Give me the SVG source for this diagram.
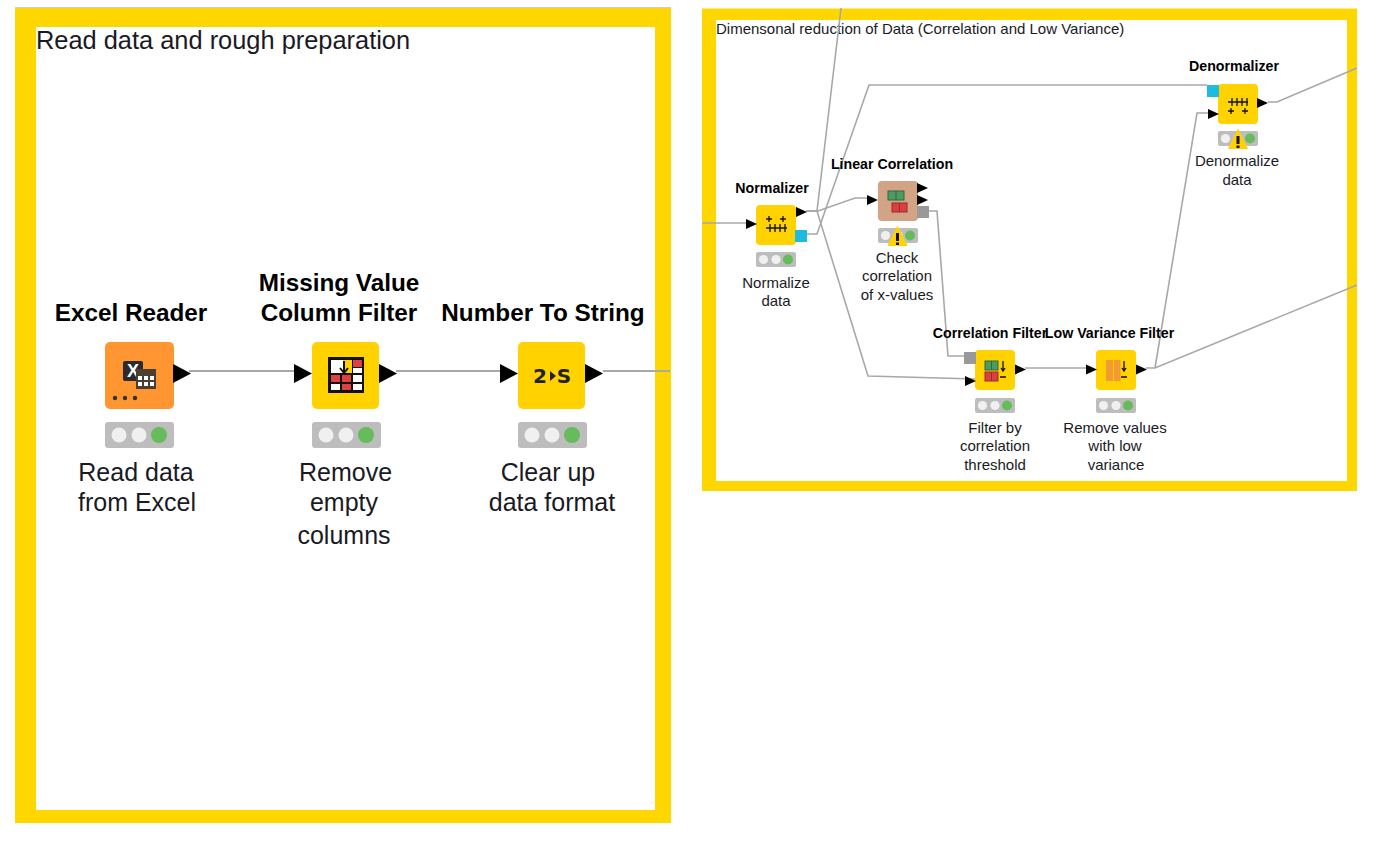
<svg xmlns="http://www.w3.org/2000/svg" width="1376" height="842" viewBox="0 0 1376 842">
<style>
.t{font-family:"Liberation Sans",Arial,sans-serif;fill:#1a1a24;text-anchor:middle}
.b{font-weight:bold;fill:#000}
.l1{font-size:25px}.l1b{font-size:24.300px}.l2{font-size:15px}.l2b{font-size:14.200px}
.c{fill:none;stroke:#a8a8a8;stroke-width:1.600}
.c2{fill:none;stroke:#a8a8a8;stroke-width:2}
.tr{fill:#000}
.y{fill:#ffd200}
.ic{fill:none;stroke:#111;stroke-width:1.300}
.gc{fill:#4d9b62;stroke:#2b6b40}
.rc{fill:#db4040;stroke:#992b2b}
</style>
<defs>
<g id="tl1"><rect width="69" height="26" rx="3" fill="#bdbdbd"/><circle cx="14" cy="13" r="7.500" fill="#f0f0f0"/><circle cx="34" cy="13" r="7.500" fill="#f0f0f0"/><circle cx="54" cy="13" r="8" fill="#66bb5a"/></g>
<g id="tl2"><rect width="40" height="15" rx="2" fill="#bdbdbd"/><circle cx="7.500" cy="7.500" r="4.600" fill="#f0f0f0"/><circle cx="20" cy="7.500" r="4.600" fill="#f0f0f0"/><circle cx="32" cy="7.500" r="5" fill="#66bb5a"/></g>
<g id="warn"><path d="M0 -19.500 L9.500 -0.500 L-9.500 -0.500 Z" fill="#ffd200" stroke="#ffd200" stroke-width="1" stroke-linejoin="round"/><rect x="-1.500" y="-13" width="3" height="8" fill="#111"/><rect x="-1.500" y="-3.500" width="3" height="2.500" fill="#111"/></g>
<path id="a1" d="M0 -9.500 L18 0 L0 9.500 Z" class="tr"/>
<path id="a2" d="M0 -5 L11 0 L0 5 Z" class="tr"/>
</defs>
<rect width="1376" height="842" fill="#fff"/>
<rect x="15" y="7" width="656" height="1.500" fill="#ccc"/>
<rect x="15" y="8" width="656" height="815" fill="#ffd700"/>
<rect x="36" y="27" width="619" height="783" fill="#fff"/>
<rect x="702" y="8.500" width="655" height="482.500" fill="#ffd700"/>
<rect x="716" y="20" width="631" height="461" fill="#fff"/>
<text class="t l1" style="text-anchor:start;font-size:25.400px" x="36" y="49">Read data and rough preparation</text>
<text class="t" style="text-anchor:start;font-size:15px" x="716" y="34">Dimensonal reduction of Data (Correlation and Low Variance)</text>
<g id="connectors">
<path class="c2" d="M189 371H296"/>
<path class="c2" d="M396 371H500"/>
<path class="c2" d="M603 371H670"/>
<path class="c" d="M702 223H746"/>
<path class="c" d="M806 211H817L841 8"/>
<path class="c" d="M806 211H817L868 376L975 379"/>
<path class="c" d="M806 211H818L855 198H867"/>
<path class="c" d="M807 234H817L869 85H1207"/>
<path class="c" d="M929 211H937L948 356H964"/>
<path class="c" d="M1025 368H1086"/>
<path class="c" d="M1146 368H1155L1357 285"/>
<path class="c" d="M1155 368L1197 113H1208"/>
<path class="c" d="M1268 102H1277L1357 68"/>
</g>
<g id="excel-reader">
<text class="t b l1b" x="131" y="321">Excel Reader</text>
<rect x="105" y="342" width="69" height="67" rx="5" fill="#ff9632"/>
<rect x="123" y="361" width="20" height="20" rx="2" fill="#2b2b2b"/>
<text x="133" y="377" font-family="Liberation Sans,sans-serif" font-size="18" font-weight="bold" fill="#fff" text-anchor="middle">X</text>
<rect x="136" y="369" width="20" height="20" fill="#4a3f35"/>
<path d="M138 376h4v4h-4zM144 376h4v4h-4zM150 376h4v4h-4zM138 382h4v4h-4zM144 382h4v4h-4zM150 382h4v4h-4z" fill="#fff"/>
<circle cx="115" cy="398" r="2.200" fill="#333"/><circle cx="125" cy="398" r="2.200" fill="#333"/><circle cx="135" cy="398" r="2.200" fill="#333"/>
<use href="#a1" x="173" y="373.500"/>
<use href="#tl1" x="105" y="422"/>
<text class="t l1" x="136" y="481">Read data</text><text class="t l1" x="137" y="511">from Excel</text>
</g>
<g id="missing-value-column-filter">
<text class="t b l1b" x="339" y="291">Missing Value</text><text class="t b l1b" x="339" y="321">Column Filter</text>
<rect class="y" x="312" y="342" width="67" height="67" rx="5"/>
<use href="#a1" x="294" y="373.500"/><use href="#a1" x="379" y="373.500"/>
<rect x="328" y="357" width="36" height="36" fill="#111"/>
<rect x="331" y="360" width="12" height="13" fill="#fff"/><rect x="343" y="360" width="9" height="13" fill="#ffd200"/><rect x="353" y="360" width="9" height="7" fill="#e04040"/><rect x="353" y="368" width="9" height="5" fill="#fff"/>
<rect x="331" y="375" width="9" height="7" fill="#e04040"/><rect x="342" y="375" width="9" height="7" fill="#e04040"/><rect x="353" y="375" width="9" height="7" fill="#fff"/>
<rect x="331" y="384" width="9" height="6" fill="#fff"/><rect x="342" y="384" width="9" height="6" fill="#e04040"/><rect x="353" y="384" width="9" height="6" fill="#fff"/>
<path d="M344 361V372M340 368L344 373L348 368" stroke="#111" stroke-width="2" fill="none"/>
<use href="#tl1" x="312" y="422"/>
<text class="t l1" x="345.500" y="481">Remove</text><text class="t l1" x="344" y="511">empty</text><text class="t l1" x="344" y="544">columns</text>
</g>
<g id="number-to-string">
<text class="t b l1b" x="543" y="321">Number To String</text>
<rect class="y" x="518" y="342" width="67" height="67" rx="5"/>
<text x="540" y="383" font-family="DejaVu Sans,sans-serif" font-size="20" font-weight="bold" fill="#222" text-anchor="middle">2</text>
<path d="M550 371L556 376L550 381Z" fill="#222"/>
<text x="564" y="383" font-family="DejaVu Sans,sans-serif" font-size="20" font-weight="bold" fill="#222" text-anchor="middle">S</text>
<use href="#a1" x="500" y="373.500"/><use href="#a1" x="585" y="373.500"/>
<use href="#tl1" x="518" y="422"/>
<text class="t l1" x="548" y="481">Clear up</text><text class="t l1" x="552" y="511">data format</text>
</g>
<g id="normalizer">
<text class="t b l2b" x="772" y="193">Normalizer</text>
<rect class="y" x="756" y="205" width="40" height="40" rx="4"/>
<path class="ic" d="M766 228H787M770 224v8M775 224v8M780 224v8M785 224v8M766 219h6M769 216v6M780 219h6M783 216v6"/>
<use href="#a2" x="746" y="224"/><use href="#a2" x="796" y="212"/>
<rect x="795" y="230" width="12" height="12" fill="#1ebbe0"/>
<use href="#tl2" x="756" y="252"/>
<text class="t l2" x="776" y="288">Normalize</text><text class="t l2" x="776" y="306">data</text>
</g>
<g id="linear-correlation">
<text class="t b l2b" x="892" y="169">Linear Correlation</text>
<rect x="878" y="181" width="40" height="40" rx="4" fill="#d2a384"/>
<rect class="gc" x="888" y="191" width="16" height="9"/><path d="M896 191v9" stroke="#2b6b40"/><rect class="rc" x="892" y="203" width="15" height="9"/><path d="M899.500 203v9" stroke="#992b2b"/>
<use href="#a2" x="867" y="200"/><use href="#a2" x="917" y="188"/><use href="#a2" x="917" y="200"/>
<rect x="917" y="206" width="12" height="12" fill="#999"/>
<use href="#tl2" x="878" y="228"/><use href="#warn" x="897.500" y="246"/>
<text class="t l2" x="897" y="263">Check</text><text class="t l2" x="897" y="281">correlation</text><text class="t l2" x="897" y="300">of x-values</text>
</g>
<g id="correlation-filter">
<text class="t b l2b" x="990" y="338">Correlation Filter</text>
<rect class="y" x="975" y="350" width="40" height="40" rx="4"/>
<rect class="gc" x="985" y="361" width="13" height="9"/><path d="M991.500 361v9" stroke="#2b6b40"/><rect class="rc" x="985" y="372" width="13" height="9"/><path d="M991.500 372v9" stroke="#992b2b"/>
<path class="ic" d="M1003 361v10M1001 368l2 3 2-3M1000 377h6"/>
<rect x="964" y="352" width="12" height="12" fill="#999"/>
<use href="#a2" x="965" y="381"/><use href="#a2" x="1015" y="369.500"/>
<use href="#tl2" x="975" y="398"/>
<text class="t l2" x="995" y="433">Filter by</text><text class="t l2" x="995" y="451">correlation</text><text class="t l2" x="995" y="470">threshold</text>
</g>
<g id="low-variance-filter">
<text class="t b l2b" x="1109.500" y="338">Low Variance Filter</text>
<rect class="y" x="1096" y="350" width="40" height="40" rx="4"/>
<rect x="1106" y="360" width="7" height="21" fill="#f39a32"/><rect x="1114" y="360" width="6.500" height="21" fill="#f39a32"/>
<path class="ic" d="M1124 361v10M1122 368l2 3 2-3M1121 377h6"/>
<use href="#a2" x="1086" y="369.500"/><use href="#a2" x="1136" y="369.500"/>
<use href="#tl2" x="1096" y="398"/>
<text class="t l2" x="1115" y="433">Remove values</text><text class="t l2" x="1115" y="451">with low</text><text class="t l2" x="1116" y="470">variance</text>
</g>
<g id="denormalizer">
<text class="t b l2b" x="1234" y="71">Denormalizer</text>
<rect class="y" x="1218" y="84" width="40" height="40" rx="4"/>
<path class="ic" d="M1228 102H1248M1232 98v8M1237 98v8M1242 98v8M1247 98v8M1228 111h6M1231 108v6M1242 111h6M1245 108v6"/>
<rect x="1207" y="85" width="12" height="12" fill="#1ebbe0"/>
<use href="#a2" x="1208" y="114"/><use href="#a2" x="1257" y="103"/>
<use href="#tl2" x="1218" y="131"/><use href="#warn" x="1238" y="149"/>
<text class="t l2" x="1237" y="166">Denormalize</text><text class="t l2" x="1237" y="185">data</text>
</g>
</svg>
